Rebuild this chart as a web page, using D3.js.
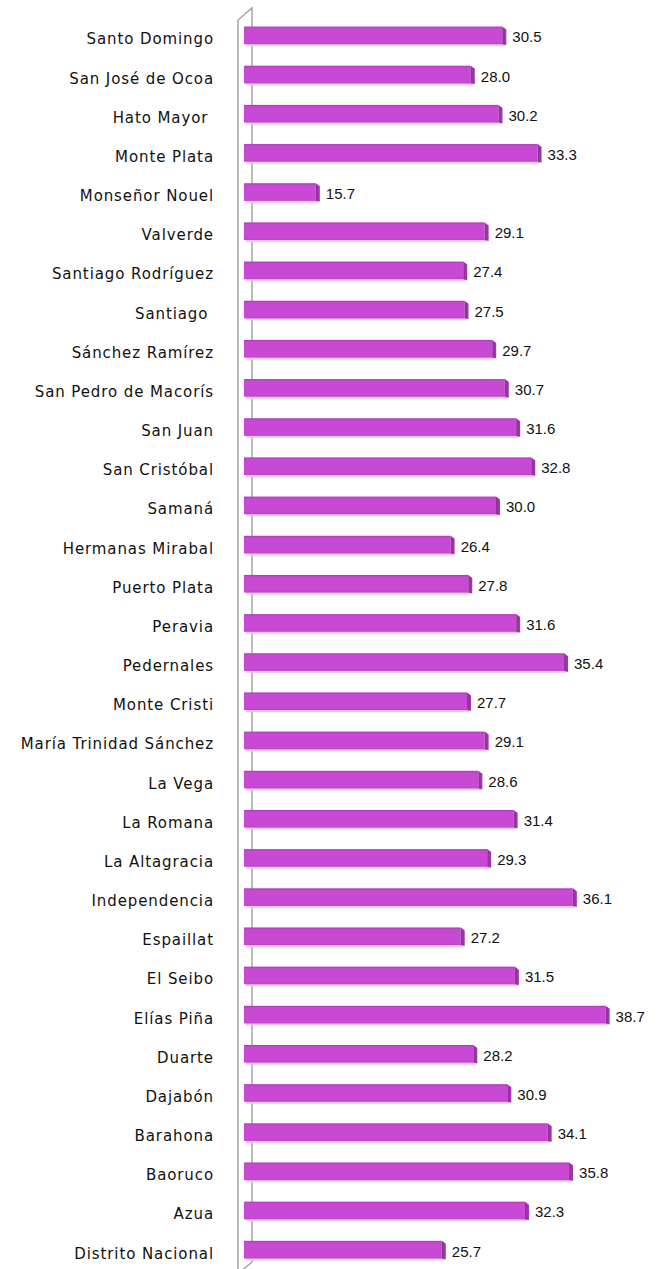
<!DOCTYPE html>
<html>
<head>
<meta charset="utf-8">
<script src="https://cdn.jsdelivr.net/npm/d3@7"></script>
<style>
  body { margin: 0; background: #fff; }
  svg text { white-space: pre; }
</style>
</head>
<body>
<svg width="663" height="1269"></svg>
<script>
var width = 663;
var height = 1269;

var provinces = ['Santo Domingo', 'San José de Ocoa', 'Hato Mayor ', 'Monte Plata', 'Monseñor Nouel', 'Valverde',
  'Santiago Rodríguez', 'Santiago ', 'Sánchez Ramírez', 'San Pedro de Macorís', 'San Juan', 'San Cristóbal',
  'Samaná', 'Hermanas Mirabal', 'Puerto Plata', 'Peravia', 'Pedernales', 'Monte Cristi', 'María Trinidad Sánchez',
  'La Vega', 'La Romana', 'La Altagracia', 'Independencia', 'Espaillat', 'El Seibo', 'Elías Piña', 'Duarte',
  'Dajabón', 'Barahona', 'Baoruco', 'Azua', 'Distrito Nacional'];
var values = [30.5, 28.0, 30.2, 33.3, 15.7, 29.1, 27.4, 27.5, 29.7, 30.7, 31.6, 32.8, 30.0, 26.4, 27.8, 31.6,
  35.4, 27.7, 29.1, 28.6, 31.4, 29.3, 36.1, 27.2, 31.5, 38.7, 28.2, 30.9, 34.1, 35.8, 32.3, 25.7];

var data = provinces.map(function(p, i) { return {name: p, value: values[i]}; });

var xScale = d3.scaleLinear()
  .domain([10, 40])
  .range([244, 622]);

var yScale = d3.scaleBand()
  .domain(provinces)
  .range([5, 1280])
  .paddingInner(0.55)
  .paddingOuter(0.55);

var svg = d3.select('svg');
var defs = svg.append('defs');

var front = defs.append('linearGradient').attr('id', 'front')
  .attr('x1', 0).attr('y1', 0).attr('x2', 0).attr('y2', 1);
front.append('stop').attr('offset', '0%').attr('stop-color', '#a93ab4');
front.append('stop').attr('offset', '12%').attr('stop-color', '#c84ad4');
front.append('stop').attr('offset', '88%').attr('stop-color', '#c84ad4');
front.append('stop').attr('offset', '100%').attr('stop-color', '#b845c4');

var side = defs.append('linearGradient').attr('id', 'side')
  .attr('x1', 0).attr('y1', 0).attr('x2', 1).attr('y2', 0);
side.append('stop').attr('offset', '0%').attr('stop-color', '#8e2f98');
side.append('stop').attr('offset', '100%').attr('stop-color', '#a23aac');

// axis wall
var wall = svg.append('g').attr('fill', 'none').attr('stroke', '#a6a6a6').attr('stroke-width', 1.5);
wall.append('path').attr('d', 'M238,1272 L238,20 L252,8 L252,1262 L240,1272');

var bars = svg.append('g');
var bh = yScale.bandwidth();

// soft shadow under bars
bars.selectAll('rect.shadow').data(data).enter()
  .append('rect')
  .attr('class', 'shadow')
  .attr('x', xScale(10) + 2)
  .attr('y', function(d) { return yScale(d.name) + bh - 1; })
  .attr('width', function(d) { return xScale(d.value) - xScale(10); })
  .attr('height', 3)
  .attr('fill', '#e7c6ea');

bars.selectAll('rect.front').data(data).enter()
  .append('rect')
  .attr('class', 'front')
  .attr('x', xScale(10))
  .attr('y', function(d) { return yScale(d.name); })
  .attr('width', function(d) { return xScale(d.value) - xScale(10); })
  .attr('height', bh)
  .attr('fill', 'url(#front)');

bars.selectAll('path.side').data(data).enter()
  .append('path')
  .attr('class', 'side')
  .attr('d', function(d) {
    var x = xScale(d.value), y = yScale(d.name);
    return 'M' + x + ',' + y + ' L' + (x + 4) + ',' + (y + 3) + ' L' + (x + 4) + ',' + (y + bh + 1) +
      ' L' + x + ',' + (y + bh) + 'Z';
  })
  .attr('fill', 'url(#side)');

svg.append('g').selectAll('text').data(data).enter()
  .append('text')
  .attr('x', 214)
  .attr('y', function(d) { return yScale(d.name) + bh / 2 + 9; })
  .attr('text-anchor', 'end')
  .attr('font-family', 'DejaVu Sans, sans-serif')
  .attr('font-size', '15px')
  .attr('letter-spacing', '0.9px')
  .attr('fill', '#111')
  .text(function(d) { return d.name; });

svg.append('g').selectAll('text').data(data).enter()
  .append('text')
  .attr('x', function(d) { return xScale(d.value) + 10; })
  .attr('y', function(d) { return yScale(d.name) + bh / 2 + 7; })
  .attr('font-family', 'Liberation Sans, Arial, sans-serif')
  .attr('font-size', '15px')
  .attr('fill', '#111')
  .text(function(d) { return d.value.toFixed(1); });
</script>
</body>
</html>
